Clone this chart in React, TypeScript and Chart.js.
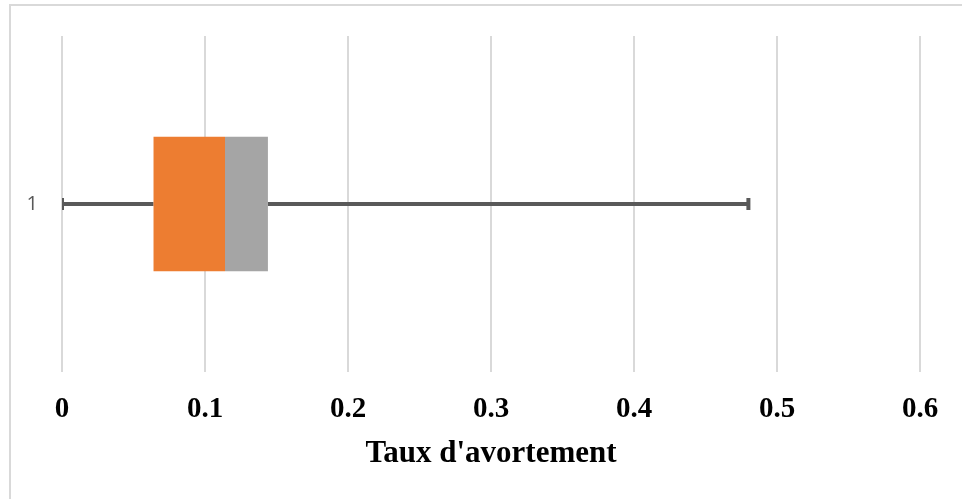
import React, { useEffect, useRef } from "react";
import { Chart, registerables } from "chart.js";

Chart.register(...registerables);

// Box-plot summary for the abortion rate
const categories = ["1"];
const minValues = [0];
const q1Values = [0.064];
const medianValues = [0.114];
const q3Values = [0.144];
const maxValues = [0.48];

const xTickLabels = ["0", "0.1", "0.2", "0.3", "0.4", "0.5", "0.6"];
const xTitle = "Taux d'avortement";

const WIDTH = 962;
const HEIGHT = 499;

// Whiskers with end caps, drawn under the boxes
const whiskerPlugin = {
  id: "whiskers",
  beforeDatasetsDraw(chart: any) {
    const { ctx, chartArea, scales } = chart;
    const xs = scales.x;
    const ys = scales.y;
    ctx.save();
    ctx.beginPath();
    ctx.rect(chartArea.left, chartArea.top, chartArea.right - chartArea.left, chartArea.bottom - chartArea.top);
    ctx.clip();
    ctx.strokeStyle = "#595959";
    ctx.lineWidth = 4;
    categories.forEach((_, i) => {
      const y = ys.getPixelForValue(i);
      const xMin = xs.getPixelForValue(minValues[i]);
      const xQ1 = xs.getPixelForValue(q1Values[i]);
      const xQ3 = xs.getPixelForValue(q3Values[i]);
      const xMax = xs.getPixelForValue(maxValues[i]);
      ctx.beginPath();
      ctx.moveTo(xMin, y);
      ctx.lineTo(xQ1, y);
      ctx.moveTo(xQ3, y);
      ctx.lineTo(xMax, y);
      ctx.stroke();
      ctx.beginPath();
      ctx.moveTo(xMin, y - 6);
      ctx.lineTo(xMin, y + 6);
      ctx.moveTo(xMax, y - 6);
      ctx.lineTo(xMax, y + 6);
      ctx.stroke();
    });
    ctx.restore();
  },
};

// Light frame around the chart
const framePlugin = {
  id: "frame",
  beforeDraw(chart: any) {
    const { ctx, width, height } = chart;
    ctx.save();
    ctx.strokeStyle = "#d9d9d9";
    ctx.lineWidth = 2;
    ctx.beginPath();
    ctx.moveTo(10, height + 2);
    ctx.lineTo(10, 5);
    ctx.lineTo(width + 2, 5);
    ctx.stroke();
    ctx.restore();
  },
};

export default function App() {
  const canvasRef = useRef<HTMLCanvasElement | null>(null);

  useEffect(() => {
    if (!canvasRef.current) return;
    const chart = new Chart(canvasRef.current, {
      type: "bar",
      data: {
        labels: categories,
        datasets: [
          {
            label: "Q1-Médiane",
            data: categories.map((_, i) => [q1Values[i], medianValues[i]]) as any,
            backgroundColor: "#ED7D31",
            borderWidth: 0,
            grouped: false,
            barPercentage: 0.4,
            categoryPercentage: 1,
          } as any,
          {
            label: "Médiane-Q3",
            data: categories.map((_, i) => [medianValues[i], q3Values[i]]) as any,
            backgroundColor: "#A5A5A5",
            borderWidth: 0,
            grouped: false,
            barPercentage: 0.4,
            categoryPercentage: 1,
          } as any,
        ],
      },
      options: {
        indexAxis: "y",
        animation: false,
        responsive: false,
        maintainAspectRatio: false,
        layout: { padding: { top: 33, right: 42, left: 0, bottom: 0 } },
        plugins: {
          legend: { display: false },
          tooltip: { enabled: false },
        },
        scales: {
          x: {
            type: "linear",
            min: 0,
            max: 0.6,
            ticks: {
              stepSize: 0.1,
              padding: 20,
              color: "#000000",
              font: { family: "'Liberation Serif', 'Times New Roman', serif", size: 29, weight: "bold" },
              callback: (_v: any, i: number) => xTickLabels[i],
            },
            grid: { color: "#d9d9d9", lineWidth: 2, drawTicks: false },
            border: { display: false },
            title: {
              display: true,
              text: xTitle,
              color: "#000000",
              padding: { top: 0, bottom: 26 },
              font: { family: "'Liberation Serif', 'Times New Roman', serif", size: 31, weight: "bold" },
            },
            afterFit: (scale: any) => {
              scale.height = 127;
            },
          },
          y: {
            type: "category",
            ticks: {
              padding: 24,
              color: "#595959",
              font: { family: "'Open Sans', 'Liberation Sans', sans-serif", size: 20 },
            },
            grid: { display: false, drawTicks: false },
            border: { display: false },
            afterFit: (scale: any) => {
              scale.width = 62;
            },
          },
        },
      } as any,
      plugins: [framePlugin, whiskerPlugin],
    });
    return () => chart.destroy();
  }, []);

  return (
    <div style={{ position: "absolute", left: 0, top: 0, width: WIDTH, height: HEIGHT, background: "#ffffff" }}>
      <canvas ref={canvasRef} width={WIDTH} height={HEIGHT} style={{ display: "block" }} />
    </div>
  );
}
